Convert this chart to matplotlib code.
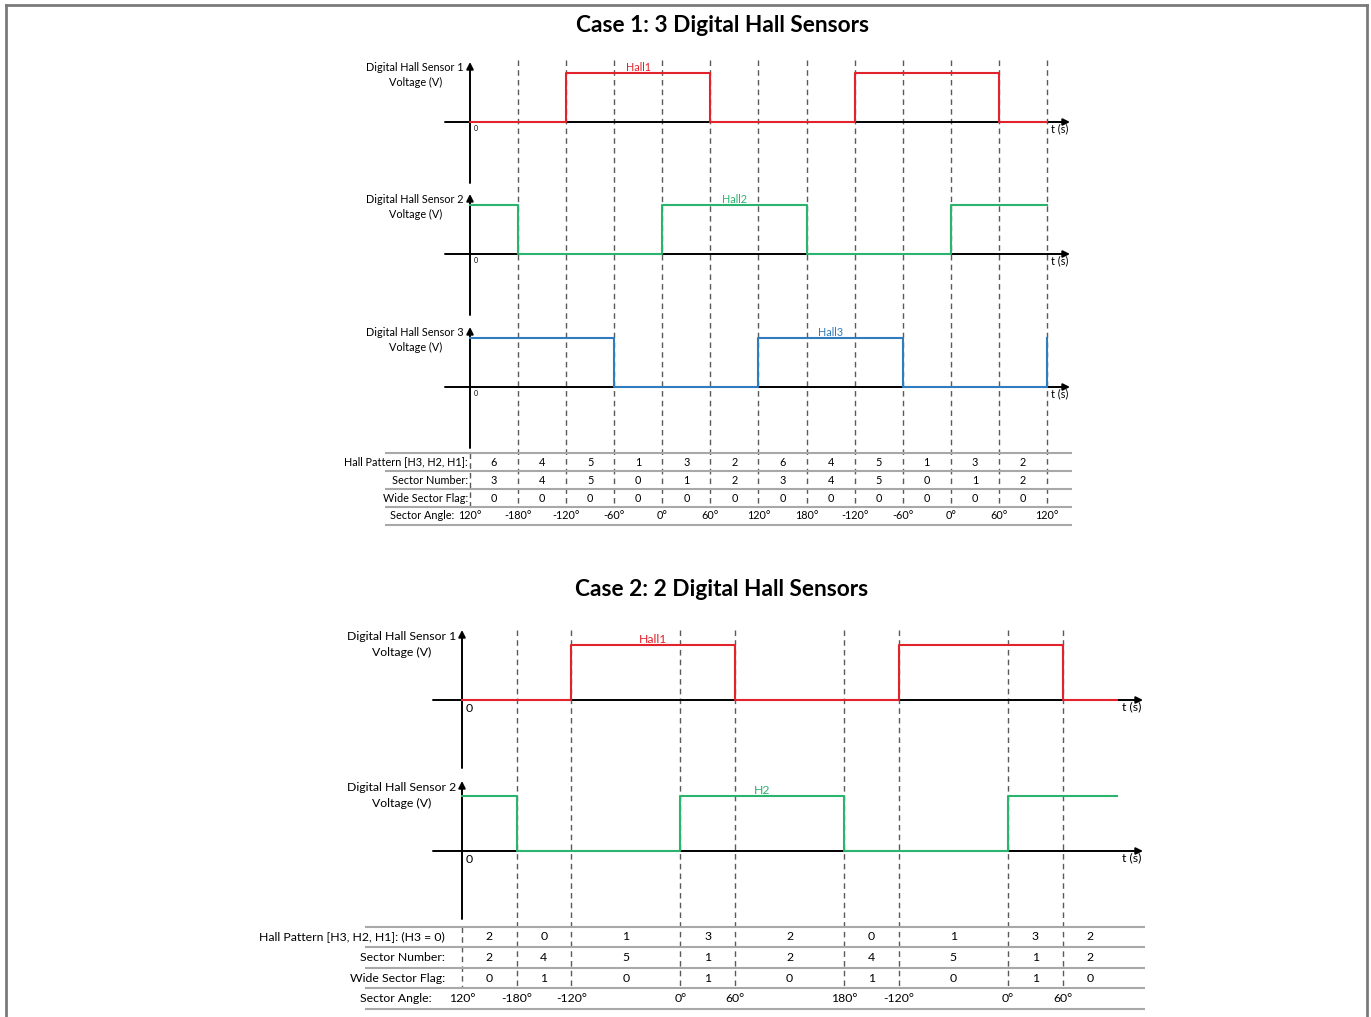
import numpy as np
import matplotlib.pyplot as plt
from matplotlib.lines import Line2D

plt.rcParams['font.family'] = ['Lato', 'DejaVu Sans']

W, H = 1371, 1017

# ---- Case 1: three hall sensors, 12 sectors of 60 deg ----
c1_bounds = list(range(13))
c1_pattern = [6, 4, 5, 1, 3, 2, 6, 4, 5, 1, 3, 2]
c1_sector = [3, 4, 5, 0, 1, 2, 3, 4, 5, 0, 1, 2]
c1_wide = [0, 0, 0, 0, 0, 0, 0, 0, 0, 0, 0, 0]
c1_angles = ['120°', '-180°', '-120°', '-60°', '0°', '60°', '120°',
             '180°', '-120°', '-60°', '0°', '60°', '120°']
c1_next_pattern = 6

# ---- Case 2: two hall sensors (H3 = 0), wide sectors span 120 deg ----
c2_bounds = [0, 1, 2, 4, 5, 7, 8, 10, 11]
c2_end = 12
c2_pattern = [2, 0, 1, 3, 2, 0, 1, 3, 2]
c2_sector = [2, 4, 5, 1, 2, 4, 5, 1, 2]
c2_wide = [0, 1, 0, 1, 0, 1, 0, 1, 0]
c2_angles = ['120°', '-180°', '-120°', '0°', '60°', '180°', '-120°', '0°', '60°']

RED, GREEN, BLUE = '#e3232c', '#2bb46e', '#2f7cc0'
DASH = '#5a5a5a'
GRID = '#a8a8a8'

fig = plt.figure(figsize=(W / 100, H / 100), dpi=100)


def px_rect(x0, y0, x1, y1):
    return [x0 / W, 1 - y1 / H, (x1 - x0) / W, (y1 - y0) / H]


def bits(patterns, bit):
    return [(p >> bit) & 1 for p in patterns]


def background(x0, x1, y0, y1, origin, unit):
    ax = fig.add_axes(px_rect(x0, y0, x1, y1))
    ax.set_xlim((x0 - origin) / unit, (x1 - origin) / unit)
    ax.set_ylim(y1, y0)
    ax.axis('off')
    return ax


def panel(x0, x1, origin, unit, base, high, top, bottom):
    ax = fig.add_axes(px_rect(x0, top, x1, bottom))
    ax.set_xlim((x0 - origin) / unit, (x1 - origin) / unit)
    amp = base - high
    ax.set_ylim((base - bottom) / amp, (base - top) / amp)
    ax.axis('off')
    ax.patch.set_alpha(0)
    return ax


def draw_panel(ax, edges, levels, nxt, color, name, name_x, x_from, x_to,
               title, fs, zero_fs, title_dx, title_dy, spacing, t_dy):
    arrow = dict(arrowstyle='-|>', color='black', lw=1.4,
                 mutation_scale=10, shrinkA=0, shrinkB=0)
    y_lo, y_hi = ax.get_ylim()
    ax.annotate('', xy=(x_to, 0), xytext=(x_from, 0), arrowprops=arrow)
    ax.annotate('', xy=(0, y_hi), xytext=(0, y_lo), arrowprops=arrow)
    ax.step(edges, list(levels) + [levels[-1]], where='post',
            color=color, lw=1.5, zorder=3)
    if nxt is not None and nxt != levels[-1]:
        ax.plot([edges[-1], edges[-1]], [levels[-1], nxt], color=color,
                lw=1.5, zorder=3)
    ax.annotate(name, xy=(name_x, 1), xytext=(0, 0), textcoords='offset pixels',
                ha='center', va='bottom', color=color, fontsize=fs)
    ax.annotate(title, xy=(0, y_hi), xytext=(title_dx, title_dy),
                textcoords='offset pixels', ha='right', va='top',
                multialignment='center', fontsize=fs, linespacing=spacing)
    ax.annotate('0', xy=(0, 0), xytext=(4, -3), textcoords='offset pixels',
                ha='left', va='top', fontsize=zero_fs)
    ax.annotate('t (s)', xy=(x_to, 0), xytext=(-2, t_dy),
                textcoords='offset pixels', ha='right', va='top', fontsize=fs)


def draw_table(ax, bounds, end, rows, row_lines, angles, labels, x_from, x_to,
               label_dx, fs, angle_label_dx, dash_top, table_top, dash_bottom):
    # dashed sector boundaries; the one at zero only runs through the table
    marks = [b for b in bounds if b != 0]
    ax.vlines(marks, dash_top, dash_bottom, colors=DASH, lw=1,
              linestyles=(0, (4, 3)))
    ax.vlines([0], table_top, dash_bottom, colors=DASH, lw=1,
              linestyles=(0, (4, 3)))
    ax.hlines(row_lines, x_from, x_to, colors=GRID, lw=1.5)
    seg = list(bounds) + ([end] if end != bounds[-1] else [])
    centers = [(a + b) / 2 for a, b in zip(seg[:-1], seg[1:])]
    for k, vals in enumerate(rows):
        yc = (row_lines[k] + row_lines[k + 1]) / 2
        ax.annotate(labels[k], xy=(0, yc), xytext=(label_dx, 0),
                    textcoords='offset pixels', ha='right', va='center',
                    fontsize=fs)
        for c, v in zip(centers, vals):
            ax.text(c, yc, str(v), ha='center', va='center', fontsize=fs)
    ya = (row_lines[-2] + row_lines[-1]) / 2
    ax.annotate(labels[-1], xy=(0, ya), xytext=(angle_label_dx, 0),
                textcoords='offset pixels', ha='right', va='center',
                fontsize=fs)
    for b, a in zip(bounds, angles):
        ax.text(b, ya, a, ha='center', va='center', fontsize=fs)


# ---------------- Case 1 ----------------
o1, u1 = 470, 48.08
X0, X1 = 330, 1090
bg1 = background(X0, X1, 40, 540, o1, u1)
names1 = ['Hall1', 'Hall2', 'Hall3']
colors1 = [RED, GREEN, BLUE]
bases1 = [122, 254, 387]
label_x1 = [3.5, 5.5, 7.5]
for i in range(3):
    ax = panel(X0, X1, o1, u1, bases1[i], bases1[i] - 49,
               bases1[i] - 60, bases1[i] + 61)
    draw_panel(ax, c1_bounds, bits(c1_pattern, i), (c1_next_pattern >> i) & 1,
               colors1[i], names1[i], label_x1[i],
               (445 - o1) / u1, (1070 - o1) / u1,
               'Digital Hall Sensor %d\nVoltage (V)' % (i + 1), 7.8, 5, -6, 0,
               1.45, -1)

draw_table(bg1, c1_bounds, 12, [c1_pattern, c1_sector, c1_wide],
           [453, 471, 489, 507, 525], c1_angles,
           ['Hall Pattern [H3, H2, H1]:', 'Sector Number:', 'Wide Sector Flag:',
            'Sector Angle:'],
           (385 - o1) / u1, (1072 - o1) / u1, -2, 7.8, -16, 60, 453, 507)

fig.text(722 / W, 1 - 25 / H, 'Case 1: 3 Digital Hall Sensors', ha='center',
         va='center', fontsize=16.3, fontweight='bold')

# ---------------- Case 2 ----------------
o2, u2 = 462, 54.6
X0, X1 = 240, 1160
bg2 = background(X0, X1, 610, 1017, o2, u2)
c2_edges = c2_bounds + [c2_end]
names2 = ['Hall1', 'H2']
colors2 = [RED, GREEN]
bases2 = [700, 851]
label_x2 = [3.5, 5.5]
for i in range(2):
    ax = panel(X0, X1, o2, u2, bases2[i], bases2[i] - 55,
               bases2[i] - 70, bases2[i] + 68)
    draw_panel(ax, c2_edges, bits(c2_pattern, i), None,
               colors2[i], names2[i], label_x2[i],
               (433 - o2) / u2, (1143 - o2) / u2,
               'Digital Hall Sensor %d\nVoltage (V)' % (i + 1), 8.8, 8.8, -6,
               -1, 1.5, -1)

draw_table(bg2, c2_bounds, c2_end, [c2_pattern, c2_sector, c2_wide],
           [927, 947, 968, 988, 1009], c2_angles,
           ['Hall Pattern [H3, H2, H1]: (H3 = 0)', 'Sector Number:',
            'Wide Sector Flag:', 'Sector Angle:'],
           (365 - o2) / u2, (1145 - o2) / u2, -17, 8.8, -30, 630, 927, 988)

fig.text(722 / W, 1 - 590 / H, 'Case 2: 2 Digital Hall Sensors', ha='center',
         va='center', fontsize=16.3, fontweight='bold')

# page frame
frame = dict(color='#7a7a7a', lw=2, transform=fig.transFigure)
fig.add_artist(Line2D([6 / W, 6 / W], [0, 1 - 5 / H], **frame))
fig.add_artist(Line2D([6 / W, 1367 / W], [1 - 5 / H, 1 - 5 / H], **frame))
fig.add_artist(Line2D([1367 / W, 1367 / W], [0, 1 - 5 / H], **frame))

fig.savefig('out.png', dpi=100)
